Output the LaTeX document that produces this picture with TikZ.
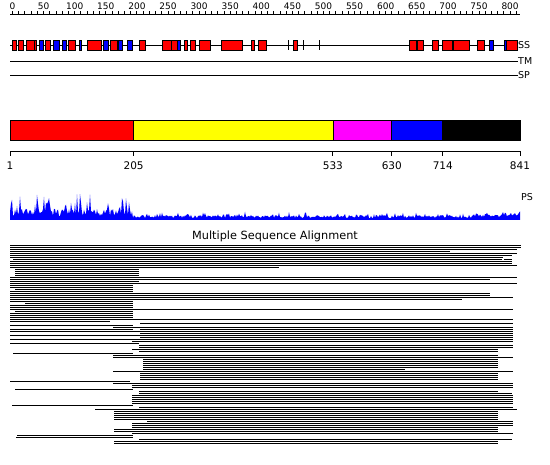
\documentclass[tikz,border=0pt]{standalone}
\usepackage{fontspec}
\setmainfont{DejaVu Sans}
\definecolor{dmag}{RGB}{255,0,255}
\definecolor{dred}{RGB}{255,0,0}
\definecolor{dyel}{RGB}{255,255,0}
\definecolor{dblue}{RGB}{0,0,255}
\begin{document}
\begin{tikzpicture}[x=1pt,y=-1pt,
  ssline/.style={line width=1pt},
  sshelix/.style={draw=black,line width=0.9pt,fill=dred},
  ssstrand/.style={draw=black,line width=0.9pt,fill=dblue},
  sstick/.style={line width=1pt},
  dombox/.style={draw=black,line width=0.8pt},
  msa/.style={line width=1pt},
  rulerlab/.style={font=\fontsize{9}{10}\selectfont,inner sep=0pt},
  axislab/.style={font=\fontsize{10.5}{12}\selectfont,inner sep=0pt},
  tracklab/.style={font=\fontsize{9.5}{11}\selectfont,inner sep=0pt,anchor=west}]
\useasboundingbox (0,0) rectangle (550,465);
\fill[white] (0,0) rectangle (550,465);
% top ruler
\draw[line width=1pt] (10,14.5) -- (520,14.5);
\foreach \i in {0,...,81} \draw[line width=0.9pt] ({12.5+\i*6.22},14.5) -- ++(0,-3.5);
\foreach \i [evaluate=\i as \lab using int(50*\i)] in {0,...,16}
  \node[rulerlab] (rl\i) at ({12.5+\i*31.1},6) {\lab};
% SS / TM / SP tracks
\draw[ssline] (10,45.5) -- (517,45.5);
\draw[ssline] (10,61.5) -- (518,61.5);
\draw[ssline] (10,75.5) -- (518,75.5);
\node[tracklab] (ss) at (518,45.5) {SS};
\node[tracklab] (tm) at (518,61.5) {TM};
\node[tracklab] (sp) at (518,75.5) {SP};
\foreach \a/\b in {12/16,18/23,26/34,34/36,45/50,68/75,87/101,110/117,139/145,162/171,171/177,184/187,190/195,199/210,221/242,251/254,258/266,293/297,409/416,417/423,432/438,442/452,453/469,477/484,506/517}
  \draw[sshelix] (\a,40.5) rectangle (\b,50.5);
\foreach \a/\b in {39/43,53/59,62/66,79/81,103/108,118/122,127/132,177/180,489/493,504/506}
  \draw[ssstrand] (\a,40.5) rectangle (\b,50.5);
\foreach \a in {288,303,319}
  \draw[sstick] (\a,40.5) -- (\a,50.5);
% domain bar
\foreach \a/\b/\c in {10/133.6/dred,133.6/332.9/dyel,332.9/391.8/dmag,391.8/442.8/dblue,442.8/520/black}
  \draw[dombox,fill=\c] (\a,120.5) rectangle (\b,140.5);
\draw[line width=1pt] (10,151.5) -- (520,151.5);
\foreach \x/\t/\n in {10/1/a,133.6/205/b,332.9/533/c,391.8/630/d,442.8/714/e,520/841/f} {
  \draw[line width=1pt] (\x,151.5) -- (\x,156);
  \node[axislab] (dl\n) at (\x,166) {\t};
}
% PS profile
\pgfmathsetseed{11}
\fill[dblue] (10,220) -- plot[domain=10:520,samples=511]
  (\x,{220-(\x<131 ? (4+7*rnd+20*rnd^5) : (1.8+3*rnd+4*rnd^6+(\x>470 ? 4*rnd*(\x-470)/50 : 0)))})
  -- (520,220) -- cycle;
\node[tracklab] (ps) at (521,197) {PS};
% MSA
\node[font=\fontsize{11.3}{13}\selectfont,inner sep=0pt] (title) at (275,236) {Multiple Sequence Alignment};
\foreach \y/\a/\b in {245/10/521,247/10/521,249/10/517,251/10/450,253/10/517,255/10/512,257/10/503,259/13/502,259/504/512,261/10/512,263/10/512,265/10/517,267/10/279,
269/15/139,271/15/139,273/15/139,275/15/139,277/10/517,279/10/490,281/10/139,283/10/517,285/10/133,287/10/133,289/15/133,291/10/133,293/10/490,295/10/490,297/10/513,299/10/462,301/10/133,303/25/133,305/10/133,307/10/133,309/10/513,311/15/133,313/10/133,315/10/133,317/10/133,319/10/513,321/10/110,323/140/513,325/10/133,327/113/513,329/10/133,329/140/513,331/10/513,333/140/513,335/10/513,337/140/513,339/10/513,
341/132/513,343/10/139,345/139/513,347/139/513,349/132/498,351/139/498,353/13/133,355/113/498,357/113/513,359/143/498,361/143/498,363/143/498,365/143/498,367/143/498,369/143/405,371/113/513,373/140/498,375/140/498,377/140/498,379/140/498,381/10/130,383/113/513,385/132/513,387/132/513,389/15/133,391/139/498,393/139/512,395/132/513,397/132/513,399/132/513,401/132/513,403/132/513,405/12/133,407/139/513,409/95/517,411/114/498,413/114/498,415/114/498,417/114/498,419/114/498,421/147/513,423/132/513,425/132/513,427/132/498,429/114/498,431/114/498,433/132/513,435/17/133,437/16/133,439/139/512,441/114/498,443/114/498}
  \draw[msa] (\a,\y+0.5) -- (\b,\y+0.5);
\end{tikzpicture}
\end{document}
